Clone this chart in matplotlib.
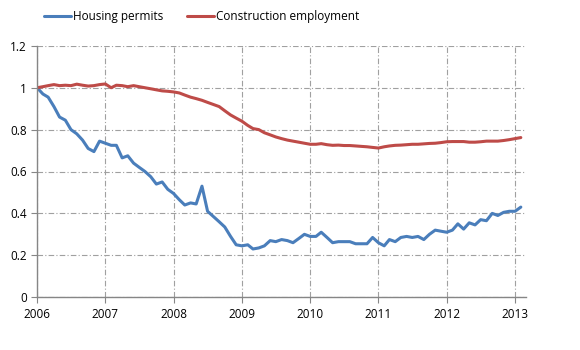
import numpy as np
import pandas as pd
import matplotlib
matplotlib.use("Agg")
import matplotlib.pyplot as plt
import matplotlib.dates as mdates

# monthly index values, Jan 2006 = 1
start_month = "2006-01"
housing_permits = [
    1.00, 0.97, 0.955, 0.91, 0.86, 0.845, 0.80, 0.78, 0.75, 0.71, 0.695, 0.745,
    0.735, 0.725, 0.725, 0.665, 0.675, 0.64, 0.62, 0.60, 0.575, 0.54, 0.55, 0.515,
    0.495, 0.465, 0.44, 0.45, 0.445, 0.53, 0.41, 0.385, 0.36, 0.335, 0.29, 0.25,
    0.245, 0.25, 0.23, 0.235, 0.245, 0.27, 0.265, 0.275, 0.27, 0.26, 0.28, 0.30,
    0.29, 0.29, 0.31, 0.285, 0.26, 0.265, 0.265, 0.265, 0.255, 0.255, 0.255, 0.285,
    0.26, 0.245, 0.275, 0.265, 0.285, 0.29, 0.285, 0.29, 0.275, 0.30, 0.32, 0.315,
    0.31, 0.32, 0.35, 0.325, 0.355, 0.345, 0.37, 0.365, 0.40, 0.39, 0.405, 0.41,
    0.41, 0.43,
]
construction_employment = [
    1.00, 1.005, 1.01, 1.015, 1.01, 1.012, 1.01, 1.017, 1.012, 1.008, 1.01, 1.015,
    1.018, 1.00, 1.012, 1.01, 1.005, 1.01, 1.005, 1.00, 0.995, 0.99, 0.985, 0.983,
    0.98, 0.975, 0.965, 0.955, 0.948, 0.94, 0.93, 0.92, 0.91, 0.89, 0.87, 0.855,
    0.84, 0.82, 0.805, 0.80, 0.785, 0.775, 0.765, 0.757, 0.75, 0.745, 0.74, 0.735,
    0.73, 0.73, 0.733, 0.728, 0.725, 0.726, 0.724, 0.724, 0.722, 0.72, 0.718, 0.715,
    0.712, 0.718, 0.722, 0.725, 0.726, 0.728, 0.73, 0.73, 0.732, 0.734, 0.735, 0.738,
    0.742, 0.743, 0.743, 0.743, 0.74, 0.74, 0.742, 0.745, 0.745, 0.745, 0.748, 0.752,
    0.757, 0.762,
]
y_ticks = [0, 0.2, 0.4, 0.6, 0.8, 1, 1.2]
y_tick_labels = ["0", "0.2", "0.4", "0.6", "0.8", "1", "1.2"]

dates = pd.date_range(start_month, periods=len(housing_permits), freq="MS")

plt.rcParams['font.family'] = ['Open Sans', 'DejaVu Sans']

fig = plt.figure(figsize=(5.8, 3.5), dpi=100)
fig.patch.set_facecolor('white')
ax = fig.add_axes([0.064, 0.151, 0.843, 0.718])

grid_col = '#a0a0a0'
ax.plot(dates, housing_permits, color='#4a7ebb', linewidth=2.2,
        label='Housing permits', solid_capstyle='round')
ax.plot(dates, construction_employment, color='#be4b48', linewidth=2.2,
        label='Construction employment', solid_capstyle='round')

ax.set_ylim(0, 1.2)
ax.set_yticks(y_ticks)
ax.set_yticklabels(y_tick_labels)
ax.set_xlim(pd.Timestamp('2006-01-01'), pd.Timestamp('2013-03-01'))
ax.xaxis.set_major_locator(mdates.YearLocator())
ax.xaxis.set_major_formatter(mdates.DateFormatter('%Y'))

ax.grid(True, color=grid_col, linestyle=(0, (5, 2, 1, 2)), linewidth=0.8)
ax.set_axisbelow(True)

for side in ['top', 'right']:
    ax.spines[side].set_visible(False)
for side in ['left', 'bottom']:
    ax.spines[side].set_color('#868686')
    ax.spines[side].set_linewidth(1.0)

ax.tick_params(axis='both', labelsize=8.5, colors='#868686', labelcolor='black',
               length=4, width=0.8)
ax.tick_params(axis='x', pad=4)

# legend across the top of the figure
handles, labels = ax.get_legend_handles_labels()
fig.legend(handles, labels, loc='center left', bbox_to_anchor=(0.075, 0.953),
           ncol=2, frameon=False, fontsize=8.5, handlelength=2.3,
           handletextpad=0.2, columnspacing=2.0, borderpad=0, borderaxespad=0)

fig.savefig('out.png', dpi=100)
